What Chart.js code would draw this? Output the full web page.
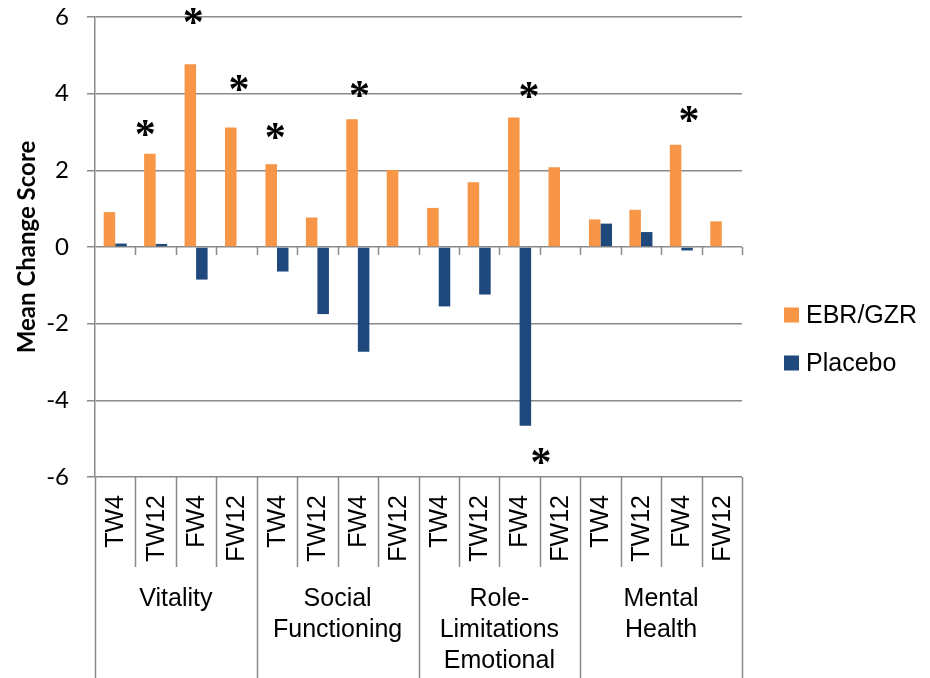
<!DOCTYPE html>
<html>
<head>
<meta charset="utf-8">
<script src="https://cdn.jsdelivr.net/npm/chart.js@4.4.1/dist/chart.umd.min.js"></script>
<style>
  html, body { margin: 0; padding: 0; background: #ffffff; }
  #wrap { width: 930px; height: 678px; }
</style>
</head>
<body>
<div id="wrap"><canvas id="chart" width="930" height="678"></canvas></div>
<script>
// Time points shown under every domain
const timepoints = ['TW4', 'TW12', 'FW4', 'FW12'];
// SF-36 domains (one entry per line of the group label)
const domains = [
  ['Vitality'],
  ['Social', 'Functioning'],
  ['Role-', 'Limitations', 'Emotional'],
  ['Mental', 'Health']
];
// One category per domain x time point
const categories = domains.flatMap(() => timepoints);

// Mean change scores
const ebrGzr  = [0.91, 2.43, 4.77, 3.12, 2.16, 0.77, 3.33, 2.01, 1.02, 1.69, 3.38, 2.08, 0.72, 0.97, 2.67, 0.67];
const placebo = [0.09, 0.08, -0.85, null, -0.64, -1.75, -2.73, null, -1.55, -1.24, -4.66, null, 0.61, 0.39, -0.09, null];

// Significance markers: category position and score level of each asterisk
const starAt    = [0.74, 1.93, 3.06, 3.96, 6.04, 10.23, 14.19, 10.53];
const starLevel = [3.10, 6.02, 4.28, 3.02, 4.13, 4.10, 3.46, -5.44];

// Value axis
const yMin = -6, yMax = 6, yStep = 2;

const seriesNames = ['EBR/GZR', 'Placebo'];
const seriesColors = ['#F79646', '#1F497D'];
const gridColor = '#8a8a8a';
const sansFont = "'Liberation Sans', Arial, sans-serif";
const axisFont = "Lato, 'Open Sans', sans-serif";

// Two-level category labels, separators, zero-line ticks, legend and asterisks
const decorations = {
  id: 'decorations',
  afterDraw(chart) {
    const { ctx, chartArea: a, scales: { x, y } } = chart;
    const H = chart.height;
    const n = categories.length;
    const edge = i => Math.round(x.getPixelForValue(i - 0.5)) + 0.5;

    ctx.save();
    ctx.strokeStyle = gridColor;
    ctx.lineWidth = 1.5;

    // tick marks hanging below the zero line
    const y0 = Math.round(y.getPixelForValue(0));
    ctx.beginPath();
    for (let i = 1; i <= n; i++) {
      ctx.moveTo(edge(i), y0);
      ctx.lineTo(edge(i), y0 + 8);
    }
    ctx.stroke();

    // label table separators
    ctx.beginPath();
    for (let i = 0; i <= n; i++) {
      const bottom = (i % timepoints.length === 0) ? H : a.bottom + 90;
      ctx.moveTo(edge(i), a.bottom);
      ctx.lineTo(edge(i), bottom);
    }
    ctx.stroke();

    // rotated time point labels
    ctx.fillStyle = '#000';
    ctx.font = '25px ' + sansFont;
    ctx.textAlign = 'right';
    ctx.textBaseline = 'middle';
    categories.forEach((lab, i) => {
      ctx.save();
      ctx.translate(x.getPixelForValue(i) + 1, a.bottom + 18);
      ctx.rotate(-Math.PI / 2);
      ctx.fillText(lab, 0, 0);
      ctx.restore();
    });

    // domain labels
    ctx.textAlign = 'center';
    ctx.textBaseline = 'alphabetic';
    domains.forEach((lines, g) => {
      const k = g * timepoints.length;
      const cx = (x.getPixelForValue(k - 0.5) + x.getPixelForValue(k + timepoints.length - 0.5)) / 2;
      lines.forEach((t, j) => ctx.fillText(t, cx, a.bottom + 129 + j * 31));
    });

    // legend
    const lx = 784, ly = [315, 363];
    ctx.font = '25px ' + sansFont;
    ctx.textAlign = 'left';
    ctx.textBaseline = 'middle';
    seriesNames.forEach((name, s) => {
      ctx.fillStyle = seriesColors[s];
      ctx.fillRect(lx, ly[s] - 7.5, 15, 15);
      ctx.fillStyle = '#000';
      ctx.fillText(name, lx + 22, ly[s] + 1);
    });

    // asterisks, each glyph centred on its position
    ctx.font = 'bold 42px "Liberation Serif", serif';
    ctx.textAlign = 'center';
    ctx.textBaseline = 'alphabetic';
    const m = ctx.measureText('*');
    const mid = (m.actualBoundingBoxAscent - m.actualBoundingBoxDescent) / 2;
    ctx.fillStyle = '#000';
    starAt.forEach((p, i) => {
      ctx.fillText('*', x.getPixelForValue(p), y.getPixelForValue(starLevel[i]) + mid);
    });
    ctx.restore();
  }
};

new Chart(document.getElementById('chart'), {
  type: 'bar',
  data: {
    labels: categories,
    datasets: [
      { label: seriesNames[0], data: ebrGzr, backgroundColor: seriesColors[0] },
      { label: seriesNames[1], data: placebo, backgroundColor: seriesColors[1] }
    ]
  },
  options: {
    responsive: false,
    animation: false,
    devicePixelRatio: 1,
    layout: { padding: { top: 17, right: 188, bottom: 201, left: 0 } },
    datasets: { bar: { categoryPercentage: 0.57, barPercentage: 1.0 } },
    plugins: { legend: { display: false }, tooltip: { enabled: false } },
    scales: {
      x: { display: false },
      y: {
        min: yMin, max: yMax,
        afterFit(scale) {
          scale.width = 95;
          scale.paddingTop = 0;
          scale.paddingBottom = 0;
        },
        ticks: { stepSize: yStep, color: '#000', padding: 18, font: { family: axisFont, size: 24 } },
        grid: { color: gridColor, lineWidth: 1.5, tickLength: 8 },
        border: { color: gridColor, width: 1.5 },
        title: {
          display: true, text: 'Mean Change Score', color: '#000',
          font: { family: axisFont, size: 24, weight: 'bold' },
          padding: { top: 13, bottom: 0 }
        }
      }
    }
  },
  plugins: [decorations]
});
</script>
</body>
</html>
